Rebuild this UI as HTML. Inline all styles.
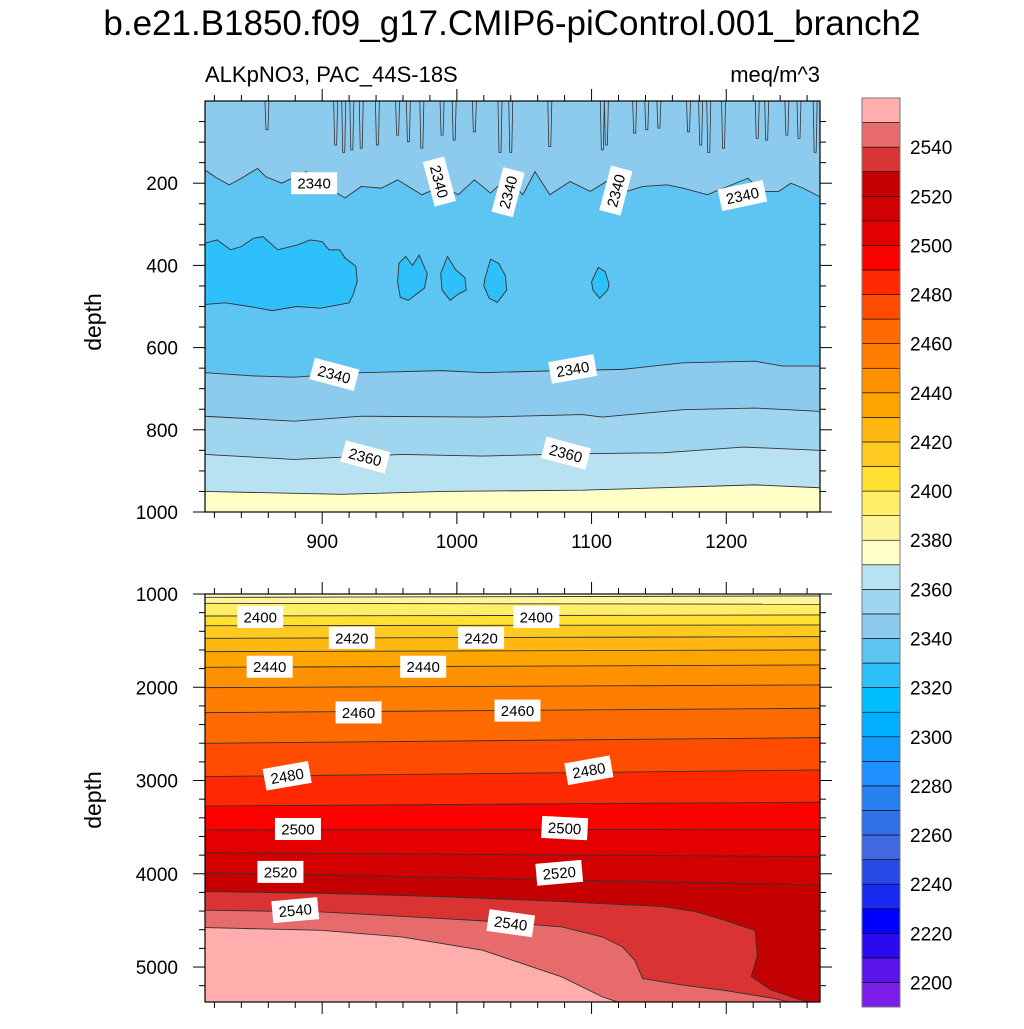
<!DOCTYPE html>
<html><head><meta charset="utf-8">
<style>
html,body{margin:0;padding:0;background:#fff;}
svg text{font-family:"Liberation Sans",Arial,sans-serif;}
</style></head>
<body>
<svg id="chart" width="1024" height="1024" viewBox="0 0 1024 1024" xmlns="http://www.w3.org/2000/svg">
<text x="512" y="35" text-anchor="middle" font-size="35">b.e21.B1850.f09_g17.CMIP6-piControl.001_branch2</text>
<text x="205" y="82" font-size="22">ALKpNO3, PAC_44S-18S</text>
<text x="820" y="82" text-anchor="end" font-size="22">meq/m^3</text>
<text transform="translate(101,322) rotate(-90)" text-anchor="middle" font-size="23">depth</text>
<text transform="translate(101,800) rotate(-90)" text-anchor="middle" font-size="23">depth</text>
<defs>
<clipPath id="clipTop"><rect x="205" y="101" width="615" height="411"/></clipPath>
<clipPath id="clipBot"><rect x="205" y="594" width="615" height="408"/></clipPath>
</defs>
<g id="topPanel"></g>
<g id="botPanel"></g>
<g id="colorbar"></g>
</svg>
<script>
// ---------- data ----------
const cbLevels = [2200,2210,2220,2230,2240,2250,2260,2270,2280,2290,2300,2310,2320,2330,2340,2350,2360,2370,2380,2390,2400,2410,2420,2430,2440,2450,2460,2470,2480,2490,2500,2510,2520,2530,2540,2550];
const cbColors = ["#7A1EE8","#5A14EC","#2A0AF0","#0000FF","#1A2AF0","#2848E6","#4068E0","#3070E6","#2880F0","#1E90FF","#109CFF","#00AFFF","#00BFFF","#2EC0FA","#5EC4F2","#8CCBEE","#A0D5F0","#B8E2F2","#FFFFC8","#FFF59A","#FFEE66","#FFE030","#FFCA20","#FFB810","#FFA500","#FF9000","#FF7D00","#FF6A00","#FF4C00","#FF2800","#FF0000","#E40000","#D20000","#C40000","#D93333","#E86B6B","#FFADAD"];
const cbTickLabels = [2200,2220,2240,2260,2280,2300,2320,2340,2360,2380,2400,2420,2440,2460,2480,2500,2520,2540];

// top panel
const topXTicks = [900,1000,1100,1200];
const topYTicks = [200,400,600,800,1000];
const upper2340Years = [813,822,831,840,852,858,870,888,899,917,929,944,956,974,989,1001,1013,1025,1037,1049,1058,1069,1084,1099,1111,1126,1138,1156,1168,1186,1198,1216,1227,1239,1248,1257,1269];
const upper2340Depths = [168,188,204,188,164,184,200,172,200,236,208,212,192,228,208,228,192,224,188,228,172,228,196,220,196,220,208,204,212,228,212,188,220,220,200,212,232];
const lowerLevels = [2340,2350,2360,2370];
const lowerYears = [
 [813,849,879,929,989,1019,1078,1123,1168,1221,1242,1269],
 [813,879,929,1019,1093,1108,1168,1221,1269],
 [813,879,959,1019,1093,1153,1213,1269],
 [813,914,989,1093,1221,1269]];
const lowerDepths = [
 [661,669,672,661,656,661,656,653,637,633,645,645],
 [767,779,767,769,763,769,751,747,755],
 [860,872,860,864,858,856,842,850],
 [950,957,950,947,934,941]];
const blobYears = [
 [813,822,832,840,849,856,867,882,891,900,905,913,917,925,926,923,920,899,881,863,846,828,813],
 [957,962,967,972,978,976,970,964,958,956],
 [988,993,999,1006,1007,1001,995,989],
 [1021,1025,1031,1036,1037,1030,1024,1020],
 [1100,1105,1110,1113,1112,1106,1101]];
const blobDepths = [
 [346,338,362,354,334,330,362,350,338,342,362,362,382,402,439,471,491,504,500,510,500,491,495],
 [395,378,400,375,420,455,470,485,478,440],
 [420,378,410,430,460,470,485,460],
 [430,385,395,425,460,490,480,450],
 [440,405,415,445,460,480,460]];
const spikeYears = [859,910,916,922,929,941,956,964,974,989,998,1013,1032,1040,1069,1108,1111,1132,1141,1150,1172,1181,1187,1198,1223,1230,1245,1254,1266];
const spikeDepths = [70,107,125,119,115,107,83,99,115,83,95,75,125,125,111,119,107,78,70,66,75,107,125,115,91,95,83,91,125];
const topLabels = [["2340",894,200,0],["2340",987,196,75],["2340",1038,222,-75],["2340",1118,218,-75],["2340",1212,230,-12],["2340",909,665,15],["2340",1086,652,-10],["2360",932,866,15],["2360",1081,857,15]];

// bottom panel
const botYTicks = [1000,2000,3000,4000,5000];
const botLevels = [2380,2390,2400,2410,2420,2430,2440,2450,2460,2470,2480,2490,2500,2510,2520];
const botDepthLeft = [1036,1100,1236,1340,1475,1618,1786,2004,2272,2601,2958,3273,3530,3773,3988];
const botDepthRight = [1021,1110,1225,1332,1457,1600,1761,1975,2225,2540,2887,3233,3523,3816,4120];
const deepLevels = [2530,2540,2550];
const deepYears = [
 [813,899.5,989,1078,1153,1177,1198,1221.5,1223,1218.5,1233,1251,1263],
 [813,899.5,989,1019,1078,1108,1123,1132,1138,1168,1198,1236,1251],
 [813,899.5,959,1019,1048.5,1078,1108,1123]];
const deepDepths = [
 [4191,4209,4245,4298,4352,4405,4495,4609,4887,5101,5244,5333,5387],
 [4391,4409,4480,4505,4570,4677,4784,4927,5124,5195,5249,5338,5391],
 [4577,4606,4677,4820,4963,5106,5320,5391]];
const botLabels = [["2400",854,1246,0],["2400",1059,1246,0],["2420",922,1470,0],["2420",1018,1470,0],["2440",861,1780,0],["2440",975,1780,0],["2460",927,2270,0],["2460",1045,2250,0],["2480",874,2950,-10],["2480",1098,2890,-10],["2500",882,3520,0],["2500",1080,3510,3],["2520",869,3980,0],["2520",1076,3990,-5],["2540",880,4390,-5],["2540",1040,4530,8]];

// ---------- scales ----------
const X0=205, X1=820, YR0=813, YR1=1269.6;
function xs(yr){return X0+(yr-YR0)*(X1-X0)/(YR1-YR0);}
const TY0=101, TY1=512;
function ty(d){return TY0+d*(TY1-TY0)/1000;}
const BY0=594, BY1=1002, BD0=1000, BD1=5375;
function by(d){return BY0+(d-BD0)*(BY1-BY0)/(BD1-BD0);}
function colorOf(level){
  const i=cbLevels.indexOf(level); return cbColors[i+1];
}
const NS="http://www.w3.org/2000/svg";
function mk(tag,attrs,parent){const e=document.createElementNS(NS,tag);for(const k in attrs)e.setAttribute(k,attrs[k]);parent.appendChild(e);return e;}

function addLabel(parent,txt,x,y,rot){
 const g=mk('g',{transform:`translate(${x},${y}) rotate(${rot})`},parent);
 
 
 mk('rect',{x:-23,y:-11,width:46,height:22,fill:'#fff'},g);
 const t=mk('text',{x:0,y:5.5,'text-anchor':'middle','font-size':15},g);
 t.textContent=txt;
}
function ticksX(parent,yTop,yBot,labels){
 for(let yr=820;yr<=1260;yr+=20){
  const major=yr%100===0, x=xs(yr), L=major?12:6;
  mk('line',{x1:x,x2:x,y1:yBot,y2:yBot+L,stroke:'#000','stroke-width':1},parent);
  mk('line',{x1:x,x2:x,y1:yTop,y2:yTop-L,stroke:'#000','stroke-width':1},parent);
 }
 if(labels) topXTicks.forEach(v=>{
  const t=mk('text',{x:xs(v),y:yBot+36,'text-anchor':'middle','font-size':19},parent);
  
  
  t.textContent=v;
 });
}

// ---------- top panel ----------
const topG=document.getElementById('topPanel');
const tg=mk('g',{'clip-path':'url(#clipTop)'},topG);
let rr=mk('rect',{x:X0,y:TY0,width:X1-X0,height:TY1-TY0,fill:colorOf(2330)},tg);


{
 let pts=upper2340Years.map((y,i)=>xs(y)+','+ty(upper2340Depths[i]));
 let poly=mk('polygon',{points:[X0+','+TY0,...pts,X1+','+TY0].join(' '),fill:colorOf(2340),stroke:'none'},tg);
 
 
 let pl=mk('polyline',{points:pts.join(' '),fill:'none',stroke:'#333',"stroke-width":0.9},tg);
 
 
}
spikeYears.forEach((yr,i)=>{
 const x=xs(yr), d=spikeDepths[i];
 let p=mk('path',{d:`M${x-2},${TY0} L${x-1},${ty(d)} L${x+1},${ty(d)} L${x+2},${TY0}`,fill:'none',stroke:'#333','stroke-width':0.8},tg);
 
 
});
blobYears.forEach((ys,b)=>{
 const pts=ys.map((y,i)=>xs(y)+','+ty(blobDepths[b][i])).join(' ');
 let p=mk('polygon',{points:pts,fill:colorOf(2320),stroke:'#333','stroke-width':0.9},tg);
 
 
});
lowerLevels.forEach((lv,k)=>{
 const pts=lowerYears[k].map((y,i)=>xs(y)+','+ty(lowerDepths[k][i]));
 let p=mk('polygon',{points:[...pts,X1+','+TY1,X0+','+TY1].join(' '),fill:colorOf(lv),stroke:'none'},tg);
 
 
 let l=mk('polyline',{points:pts.join(' '),fill:'none',stroke:'#333','stroke-width':0.9},tg);
 
 
});
topLabels.forEach(l=>addLabel(tg,l[0],xs(l[1]),ty(l[2]),l[3]));
let fr=mk('rect',{x:X0,y:TY0,width:X1-X0,height:TY1-TY0,fill:'none',stroke:'#000','stroke-width':1.2},topG);


for(let d=50;d<=1000;d+=50){
 const major=d%200===0, y=ty(d), L=major?12:6;
 mk('line',{x1:X0,x2:X0-L,y1:y,y2:y,stroke:'#000'},topG);
 mk('line',{x1:X1,x2:X1+L,y1:y,y2:y,stroke:'#000'},topG);
}
topYTicks.forEach(v=>{
 const t=mk('text',{x:178,y:ty(v)+7,'text-anchor':'end','font-size':19},topG);
 
 
 t.textContent=v;
});
ticksX(topG,TY0,TY1,true);

// ---------- bottom panel ----------
const botG=document.getElementById('botPanel');
const bg=mk('g',{'clip-path':'url(#clipBot)'},botG);
rr=mk('rect',{x:X0,y:BY0,width:X1-X0,height:BY1-BY0,fill:colorOf(2370)},bg);


botLevels.forEach((lv,i)=>{
 const a=xs(YR0)+','+by(botDepthLeft[i]), b=xs(YR1)+','+by(botDepthRight[i]);
 let p=mk('polygon',{points:[a,b,X1+','+BY1,X0+','+BY1].join(' '),fill:colorOf(lv)},bg);
 
 
 let l=mk('polyline',{points:a+' '+b,fill:'none',stroke:'#333','stroke-width':0.9},bg);
 
 
});
deepLevels.forEach((lv,k)=>{
 const pts=deepYears[k].map((y,i)=>xs(y)+','+by(deepDepths[k][i]));
 const lastX=xs(deepYears[k][deepYears[k].length-1]);
 let p=mk('polygon',{points:[...pts,lastX+','+(BY1+5),X0+','+(BY1+5)].join(' '),fill:colorOf(lv)},bg);
 
 
 let l=mk('polyline',{points:pts.join(' '),fill:'none',stroke:'#333','stroke-width':0.9},bg);
 
 
});
botLabels.forEach(l=>addLabel(bg,l[0],xs(l[1]),by(l[2]),l[3]));
fr=mk('rect',{x:X0,y:BY0,width:X1-X0,height:BY1-BY0,fill:'none',stroke:'#000','stroke-width':1.2},botG);


for(let d=1000;d<=5375;d+=200){
 const major=d%1000===0, y=by(d), L=major?12:6;
 mk('line',{x1:X0,x2:X0-L,y1:y,y2:y,stroke:'#000'},botG);
 mk('line',{x1:X1,x2:X1+L,y1:y,y2:y,stroke:'#000'},botG);
}
botYTicks.forEach(v=>{
 const t=mk('text',{x:178,y:by(v)+7,'text-anchor':'end','font-size':19},botG);
 
 
 t.textContent=v;
});
ticksX(botG,BY0,BY1,false);

// ---------- colorbar ----------
const cb=document.getElementById('colorbar');
const CX=862, CW=38, CY0=98, CY1=1007, n=cbColors.length, bh=(CY1-CY0)/n;
cbColors.forEach((c,i)=>{
 const y=CY1-(i+1)*bh;
 let b=mk('rect',{x:CX,y:y,width:CW,height:bh,fill:c,stroke:'#000','stroke-width':0.6},cb);
 
 
});
mk('rect',{x:CX,y:CY0,width:CW,height:CY1-CY0,fill:'none',stroke:'#777','stroke-width':1},cb);
cbTickLabels.forEach(v=>{
 const i=cbLevels.indexOf(v), y=CY1-(i+1)*bh;
 const t=mk('text',{x:910,y:y+7,'font-size':19},cb);
 
 
 t.textContent=v;
});
</script>
</body></html>
